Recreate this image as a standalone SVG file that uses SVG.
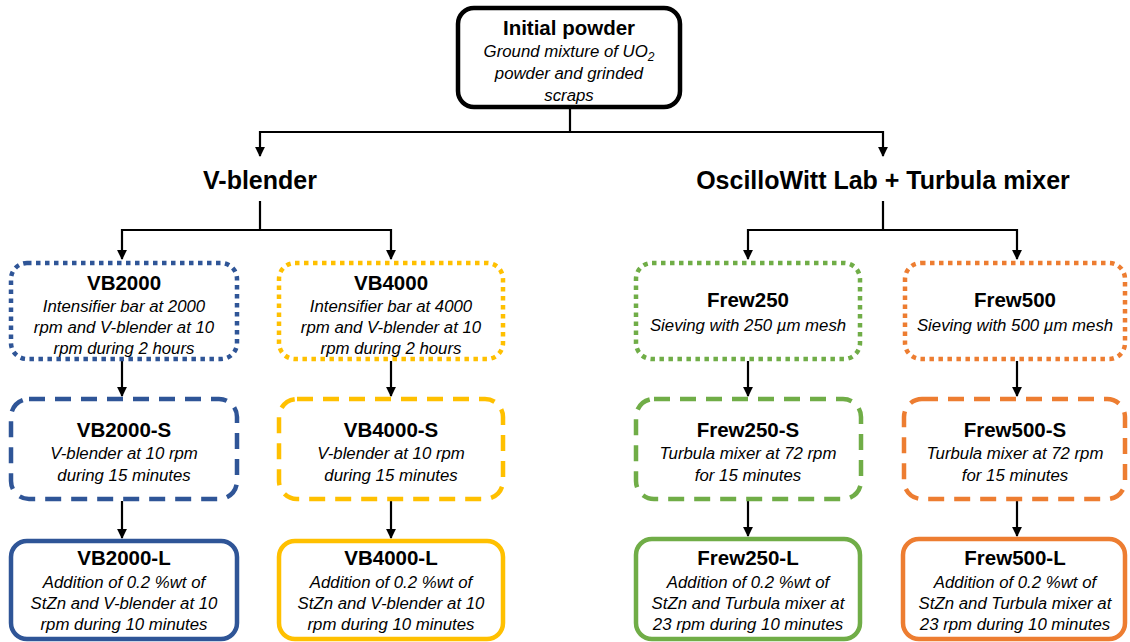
<svg xmlns="http://www.w3.org/2000/svg" width="1130" height="642" viewBox="0 0 1130 642">
<style>
text{font-family:"Liberation Sans",Arial,sans-serif;text-anchor:middle;fill:#000}
.t{font-weight:bold;font-size:20.5px}
.h{font-weight:bold;font-size:25px}
.d{font-style:italic;font-size:16.8px}
.box{fill:#fff;stroke-width:4.5}
.dot{stroke-dasharray:4.5 4.5}
.dash{stroke-dasharray:16 10}
.blue{stroke:#2F5597}.yel{stroke:#FFC000}.grn{stroke:#70AD47}.org{stroke:#ED7D31}
.c{stroke:#000;stroke-width:2.2;fill:none}
</style>
<defs>
<marker id="a" viewBox="0 0 10 10" refX="9" refY="5" markerWidth="4.5" markerHeight="4.5" orient="auto"><path d="M0,0L10,5L0,10z" fill="#000"/></marker>
</defs>
<rect width="1130" height="642" fill="#fff"/>
<g id="connectors">
<path class="c" d="M570,108V132M260,132H883"/>
<path class="c" d="M260,131V156" marker-end="url(#a)"/>
<path class="c" d="M883,131V156" marker-end="url(#a)"/>
<path class="c" d="M260,201V230M122,230H391"/>
<path class="c" d="M122,229V259" marker-end="url(#a)"/>
<path class="c" d="M391,229V259" marker-end="url(#a)"/>
<path class="c" d="M883,201V230M748,230H1017"/>
<path class="c" d="M748,229V259" marker-end="url(#a)"/>
<path class="c" d="M1017,229V259" marker-end="url(#a)"/>
<path class="c" d="M122,361V396" marker-end="url(#a)"/>
<path class="c" d="M391,361V396" marker-end="url(#a)"/>
<path class="c" d="M748,361V396" marker-end="url(#a)"/>
<path class="c" d="M1017,361V396" marker-end="url(#a)"/>
<path class="c" d="M122,501V538" marker-end="url(#a)"/>
<path class="c" d="M391,501V538" marker-end="url(#a)"/>
<path class="c" d="M748,501V536" marker-end="url(#a)"/>
<path class="c" d="M1017,501V536" marker-end="url(#a)"/>
</g>
<g id="initial">
<rect x="458" y="8" width="222" height="99" rx="16" fill="#fff" stroke="#000" stroke-width="4.5"/>
<text class="t" x="569" y="35" font-size="21.5">Initial powder</text>
<text class="d" x="569" y="57">Ground mixture of UO<tspan font-size="12" dy="4">2</tspan></text>
<text class="d" x="569" y="79">powder and grinded</text>
<text class="d" x="569" y="101">scraps</text>
</g>
<g id="vblender"><text class="h" x="260" y="189">V-blender</text></g>
<g id="oscillo"><text class="h" x="883" y="189">OscilloWitt Lab + Turbula mixer</text></g>
<g id="vb2000">
<rect class="box dot blue" x="11" y="263" width="226" height="96" rx="16"/>
<text class="t" x="124" y="290">VB2000</text>
<text class="d" x="124" y="312">Intensifier bar at 2000</text>
<text class="d" x="124" y="333">rpm and V-blender at 10</text>
<text class="d" x="124" y="354">rpm during 2 hours</text>
</g>
<g id="vb4000">
<rect class="box dot yel" x="279" y="263" width="224" height="96" rx="16"/>
<text class="t" x="391" y="290">VB4000</text>
<text class="d" x="391" y="312">Intensifier bar at 4000</text>
<text class="d" x="391" y="333">rpm and V-blender at 10</text>
<text class="d" x="391" y="354">rpm during 2 hours</text>
</g>
<g id="frew250">
<rect class="box dot grn" x="636" y="263" width="224" height="96" rx="16"/>
<text class="t" x="748" y="307">Frew250</text>
<text class="d" x="748" y="331">Sieving with 250 µm mesh</text>
</g>
<g id="frew500">
<rect class="box dot org" x="905" y="263" width="220" height="96" rx="16"/>
<text class="t" x="1015" y="307">Frew500</text>
<text class="d" x="1015" y="331">Sieving with 500 µm mesh</text>
</g>
<g id="vb2000s">
<rect class="box dash blue" x="11" y="399" width="226" height="100" rx="18"/>
<text class="t" x="124" y="437">VB2000-S</text>
<text class="d" x="124" y="459">V-blender at 10 rpm</text>
<text class="d" x="124" y="481">during 15 minutes</text>
</g>
<g id="vb4000s">
<rect class="box dash yel" x="279" y="399" width="224" height="100" rx="18"/>
<text class="t" x="391" y="437">VB4000-S</text>
<text class="d" x="391" y="459">V-blender at 10 rpm</text>
<text class="d" x="391" y="481">during 15 minutes</text>
</g>
<g id="frew250s">
<rect class="box dash grn" x="636" y="399" width="225" height="100" rx="18"/>
<text class="t" x="748" y="437">Frew250-S</text>
<text class="d" x="748" y="459">Turbula mixer at 72 rpm</text>
<text class="d" x="748" y="481">for 15 minutes</text>
</g>
<g id="frew500s">
<rect class="box dash org" x="904" y="399" width="221" height="100" rx="18"/>
<text class="t" x="1015" y="437">Frew500-S</text>
<text class="d" x="1015" y="459">Turbula mixer at 72 rpm</text>
<text class="d" x="1015" y="481">for 15 minutes</text>
</g>
<g id="vb2000l">
<rect class="box blue" x="11" y="541" width="226" height="98" rx="16"/>
<text class="t" x="124" y="565">VB2000-L</text>
<text class="d" x="124" y="588">Addition of 0.2 %wt of</text>
<text class="d" x="124" y="609">StZn and V-blender at 10</text>
<text class="d" x="124" y="630">rpm during 10 minutes</text>
</g>
<g id="vb4000l">
<rect class="box yel" x="279" y="541" width="224" height="98" rx="16"/>
<text class="t" x="391" y="565">VB4000-L</text>
<text class="d" x="391" y="588">Addition of 0.2 %wt of</text>
<text class="d" x="391" y="609">StZn and V-blender at 10</text>
<text class="d" x="391" y="630">rpm during 10 minutes</text>
</g>
<g id="frew250l">
<rect class="box grn" x="636" y="539" width="224" height="100" rx="16"/>
<text class="t" x="748" y="565">Frew250-L</text>
<text class="d" x="748" y="588">Addition of 0.2 %wt of</text>
<text class="d" x="748" y="609">StZn and Turbula mixer at</text>
<text class="d" x="748" y="630">23 rpm during 10 minutes</text>
</g>
<g id="frew500l">
<rect class="box org" x="903" y="539" width="222" height="100" rx="16"/>
<text class="t" x="1015" y="565">Frew500-L</text>
<text class="d" x="1015" y="588">Addition of 0.2 %wt of</text>
<text class="d" x="1015" y="609">StZn and Turbula mixer at</text>
<text class="d" x="1015" y="630">23 rpm during 10 minutes</text>
</g>
</svg>
